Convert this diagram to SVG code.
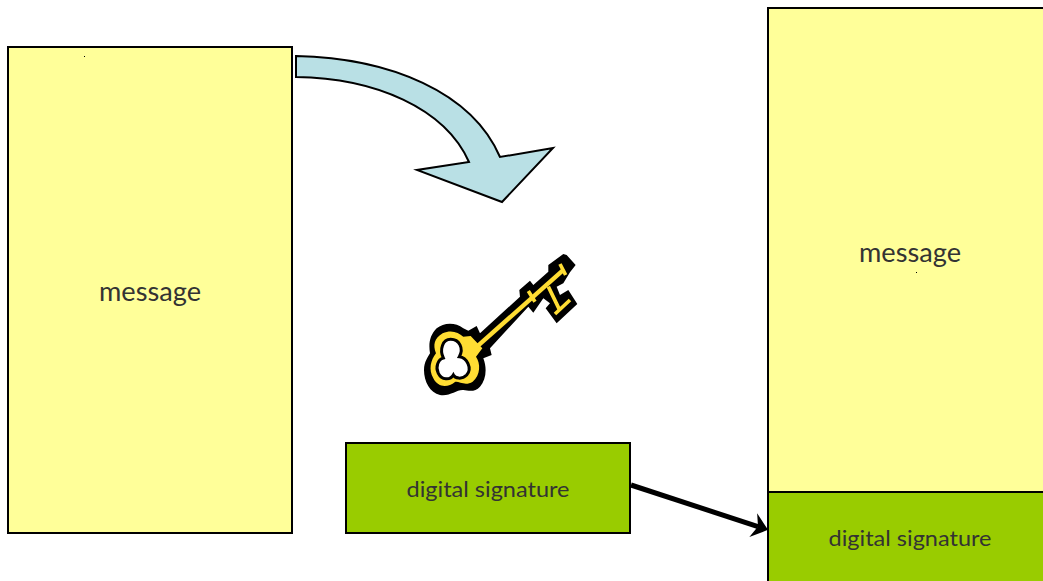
<svg xmlns="http://www.w3.org/2000/svg" width="1043" height="581" viewBox="0 0 1043 581">
<style>
.y{fill:#ffff99;stroke:#000;stroke-width:2}
.g{fill:#99cc00;stroke:#000;stroke-width:2}
.t{font-family:"Lato","Open Sans",sans-serif;fill:#333;text-anchor:middle}
.m{font-size:26px}
.s{font-size:22px}
.d{fill:#000}
</style>
<defs>
<marker id="head" markerUnits="userSpaceOnUse" markerWidth="24" markerHeight="30" viewBox="-1 -15 20 30" refX="5" refY="0" orient="auto">
<path d="M0,-12.5L15.5,0L0,12.5L5,0Z" fill="#000"/>
</marker>
</defs>
<g id="message-left">
<rect class="y" x="8" y="47" width="284" height="486"/>
<rect class="d" x="84" y="56" width="1" height="1"/>
<text class="t m" x="150" y="301" textLength="102" lengthAdjust="spacingAndGlyphs">message</text>
</g>
<g id="curved-arrow">
<path d="M296,56C390,58 472,92 500,157L553,148L502,202L417,170L469,162C445,108 375,78 296,77Z" fill="#b9e0e5" stroke="#000" stroke-width="2" stroke-linejoin="miter"/>
</g>
<g id="key" transform="translate(400 240) scale(.3333)">
<path fill="#000" d="M230,258L240,280L360,170L358,150L390,122L400,135L445,95L445,75L490,42L500,45L527,75L510,97L490,130L470,140L480,165L505,150L532,192L470,250L437,205L450,190L430,175L400,218L385,200L270,325L275,345L250,355C262,385 258,420 240,440C225,458 205,452 190,450C170,448 150,470 120,465C90,458 72,425 72,390C72,365 85,350 90,340C85,310 90,285 110,265C130,248 165,245 190,265L205,272Z"/>
<path fill="#ffdd33" d="M212,288L247,325L228,350C242,370 242,405 218,425C195,440 175,422 165,426C145,442 115,445 100,415C85,390 92,360 108,340C98,315 103,295 128,280C155,268 175,278 190,290Z"/>
<path fill="none" stroke="#ffdd33" stroke-width="13" d="M225,325L492,88"/>
<path fill="none" stroke="#ffdd33" stroke-width="11" d="M385,153L405,185M480,72L497,105M445,140L478,208M465,222L510,180"/>
<path fill="#fff" stroke="#000" stroke-width="9" d="M152,298C178,298 192,325 178,350C200,352 218,385 200,405C185,420 165,415 160,405C150,422 125,420 115,400C105,380 115,358 130,354C118,328 128,298 152,298Z"/>
</g>
<g id="signature">
<rect class="g" x="346" y="443" width="284" height="90"/>
<text class="t s" x="488" y="497" textLength="163" lengthAdjust="spacingAndGlyphs">digital signature</text>
</g>
<g id="signed-message">
<rect class="y" x="768" y="8" width="280" height="484"/>
<rect class="g" x="768" y="492" width="280" height="95"/>
<rect class="d" x="916" y="272" width="1" height="1"/>
<text class="t m" x="910" y="262" textLength="102" lengthAdjust="spacingAndGlyphs">message</text>
<text class="t s" x="910" y="546" textLength="163" lengthAdjust="spacingAndGlyphs">digital signature</text>
</g>
<g id="connectors">
<line x1="631" y1="485" x2="758" y2="526.6" stroke="#000" stroke-width="5" marker-end="url(#head)"/>
</g>
</svg>
